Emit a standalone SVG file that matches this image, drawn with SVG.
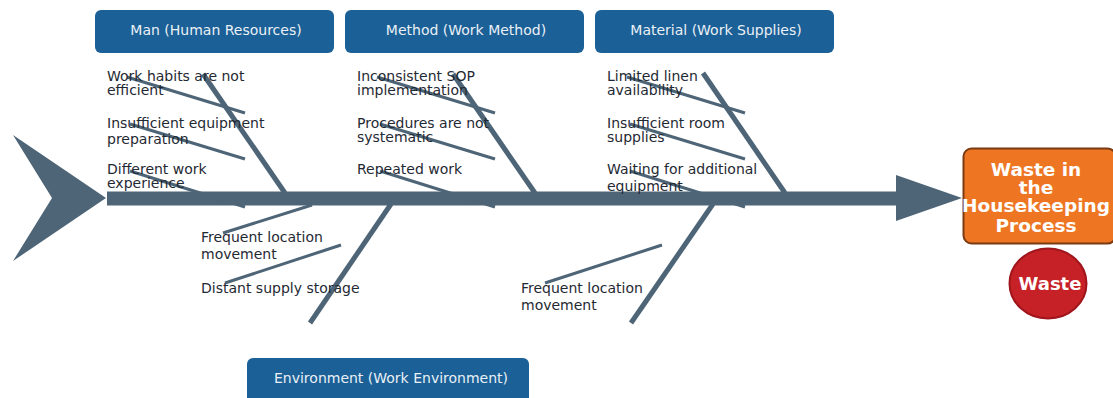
<svg xmlns="http://www.w3.org/2000/svg" width="1113" height="398" viewBox="0 0 1113 398">
  <style>
    .cat rect { fill: #1b6096; }
    .cat text { fill: #eaf0f6; font-family: "DejaVu Sans", sans-serif; font-size: 14px; text-anchor: middle; }
    .cause { fill: #1f2933; font-family: "DejaVu Sans", sans-serif; font-size: 14px; }
    .bone { stroke: #4e6577; stroke-width: 5; fill: none; }
    .sub { stroke: #4e6577; stroke-width: 3; fill: none; }
    .body { fill: #4e6577; }
    .effect-t { fill: #ffffff; font-family: "DejaVu Sans", sans-serif; font-weight: bold; text-anchor: middle; }
  </style>

  <!-- fish body: tail, spine and head arrow -->
  <g id="spine">
    <polygon class="body" points="13,135 106,198 13,261 52,198"/>
    <rect class="body" x="107" y="191.5" width="790" height="14"/>
    <polygon class="body" points="896,175 962,198 896,221"/>
  </g>

  <!-- bones and sub-bones -->
  <g id="connectors">
    <!-- Man -->
    <line class="bone" x1="203" y1="74" x2="285" y2="193"/>
    <line class="sub" x1="127" y1="77" x2="245" y2="113"/>
    <line class="sub" x1="130" y1="124" x2="245" y2="159"/>
    <line class="sub" x1="130" y1="171" x2="245" y2="207"/>
    <!-- Method -->
    <line class="bone" x1="453" y1="74" x2="535" y2="193"/>
    <line class="sub" x1="377" y1="77" x2="495" y2="113"/>
    <line class="sub" x1="380" y1="124" x2="495" y2="159"/>
    <line class="sub" x1="380" y1="171" x2="495" y2="207"/>
    <!-- Material -->
    <line class="bone" x1="703" y1="73" x2="785" y2="193"/>
    <line class="sub" x1="627" y1="77" x2="745" y2="113"/>
    <line class="sub" x1="630" y1="124" x2="745" y2="159"/>
    <line class="sub" x1="630" y1="171" x2="745" y2="207"/>
    <!-- Environment -->
    <line class="bone" x1="391" y1="204" x2="310" y2="323"/>
    <line class="sub" x1="223" y1="233" x2="312" y2="205"/>
    <line class="sub" x1="225" y1="283" x2="341" y2="245"/>
    <!-- lower right bone -->
    <line class="bone" x1="713" y1="204" x2="631" y2="323"/>
    <line class="sub" x1="545" y1="283" x2="662" y2="245"/>
  </g>

  <!-- category headers -->
  <g id="cat-man" class="cat">
    <rect x="95" y="10" width="239" height="43" rx="6"/>
    <text x="216" y="35">Man (Human Resources)</text>
  </g>
  <g id="cat-method" class="cat">
    <rect x="345" y="10" width="239" height="43" rx="6"/>
    <text x="466" y="35">Method (Work Method)</text>
  </g>
  <g id="cat-material" class="cat">
    <rect x="595" y="10" width="239" height="43" rx="6"/>
    <text x="716" y="35">Material (Work Supplies)</text>
  </g>
  <g id="cat-environment" class="cat">
    <rect x="247" y="358" width="282" height="48" rx="6"/>
    <text x="391" y="383">Environment (Work Environment)</text>
  </g>

  <!-- causes -->
  <g id="causes-man">
    <text class="cause" x="107" y="81">Work habits are not</text>
    <text class="cause" x="107" y="95">efficient</text>
    <text class="cause" x="107" y="128">Insufficient equipment</text>
    <text class="cause" x="107" y="144">preparation</text>
    <text class="cause" x="107" y="174">Different work</text>
    <text class="cause" x="107" y="188">experience</text>
  </g>
  <g id="causes-method">
    <text class="cause" x="357" y="81">Inconsistent SOP</text>
    <text class="cause" x="357" y="95">implementation</text>
    <text class="cause" x="357" y="128">Procedures are not</text>
    <text class="cause" x="357" y="142">systematic</text>
    <text class="cause" x="357" y="174">Repeated work</text>
  </g>
  <g id="causes-material">
    <text class="cause" x="607" y="81">Limited linen</text>
    <text class="cause" x="607" y="95">availability</text>
    <text class="cause" x="607" y="128">Insufficient room</text>
    <text class="cause" x="607" y="142">supplies</text>
    <text class="cause" x="607" y="174">Waiting for additional</text>
    <text class="cause" x="607" y="191">equipment</text>
  </g>
  <g id="causes-environment">
    <text class="cause" x="201" y="242">Frequent location</text>
    <text class="cause" x="201" y="259">movement</text>
    <text class="cause" x="201" y="293">Distant supply storage</text>
  </g>
  <g id="causes-lower-right">
    <text class="cause" x="521" y="293">Frequent location</text>
    <text class="cause" x="521" y="310">movement</text>
  </g>

  <!-- effect -->
  <g id="effect">
    <rect x="963.5" y="148.5" width="152" height="95" rx="8" fill="#ee7623" stroke="#7a3a12" stroke-width="2"/>
    <text class="effect-t" x="1036" y="176" font-size="18.5">Waste in</text>
    <text class="effect-t" x="1036" y="194" font-size="18.5">the</text>
    <text class="effect-t" x="1036" y="212" font-size="18.5">Housekeeping</text>
    <text class="effect-t" x="1036" y="232" font-size="18.5">Process</text>
  </g>
  <g id="waste">
    <ellipse cx="1048" cy="283.5" rx="38.5" ry="35" fill="#c62127" stroke="#9e151b" stroke-width="2"/>
    <text class="effect-t" x="1050" y="290" font-size="18">Waste</text>
  </g>
</svg>
